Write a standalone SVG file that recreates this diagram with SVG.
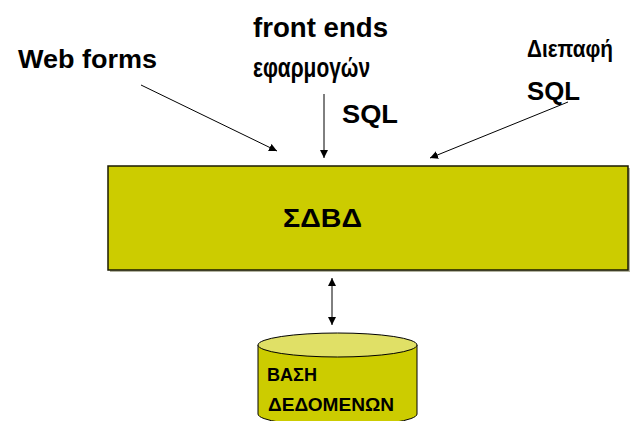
<svg xmlns="http://www.w3.org/2000/svg" width="633" height="421" viewBox="0 0 633 421">
  <defs>
    <marker id="arrow" viewBox="0 0 10 10" refX="10" refY="5" markerWidth="8" markerHeight="8" markerUnits="userSpaceOnUse" orient="auto-start-reverse">
      <path d="M0,0 L10,5 L0,10 z" fill="#000"/>
    </marker>
    <style>
      text { font-family: "Liberation Sans", "DejaVu Sans", sans-serif; font-weight: bold; fill: #000; }
      .lbl { font-size: 25px; }
      .big { font-size: 28px; }
      .mid { font-size: 23px; }
      .db { font-size: 18px; }
      .conn { stroke: #000; stroke-width: 1; fill: none; }
    </style>
  </defs>
  <rect width="633" height="421" fill="#fff"/>

  <!-- labels of the three clients -->
  <g id="web-forms">
    <text class="lbl" x="18" y="68" textLength="139" lengthAdjust="spacingAndGlyphs">Web forms</text>
  </g>
  <g id="front-ends">
    <text class="big" x="253" y="37" textLength="135" lengthAdjust="spacingAndGlyphs">front ends</text>
    <text class="big" x="253" y="77" textLength="117" lengthAdjust="spacingAndGlyphs">εφαρμογών</text>
    <text class="lbl" x="342" y="123" textLength="56" lengthAdjust="spacingAndGlyphs">SQL</text>
  </g>
  <g id="sql-interface">
    <text class="mid" x="527" y="57" textLength="86" lengthAdjust="spacingAndGlyphs">Διεπαφή</text>
    <text class="lbl" x="527" y="100" textLength="53" lengthAdjust="spacingAndGlyphs">SQL</text>
  </g>

  <!-- DBMS block -->
  <g id="dbms">
    <rect x="110" y="168" width="520" height="104" fill="#808060" opacity="0.6"/>
    <rect x="108" y="166" width="520" height="104" fill="#cccc00" stroke="#1a1a00" stroke-width="1.5"/>
    <text class="lbl" x="283" y="227" textLength="79" lengthAdjust="spacingAndGlyphs">ΣΔΒΔ</text>
  </g>

  <!-- database cylinder -->
  <g id="database">
    <path d="M258,345 L258,414 A79.5,12 0 0 0 417,414 L417,345" fill="#cccc00" stroke="#000" stroke-width="1"/>
    <ellipse cx="337.5" cy="345" rx="79.5" ry="12" fill="#e0e066" stroke="#000" stroke-width="1"/>
    <text class="db" x="267" y="381" textLength="50" lengthAdjust="spacingAndGlyphs">ΒΑΣΗ</text>
    <text class="db" x="268" y="411" textLength="126" lengthAdjust="spacingAndGlyphs">ΔΕΔΟΜΕΝΩΝ</text>
  </g>

  <!-- connectors -->
  <g id="connectors">
    <line class="conn" x1="141" y1="85" x2="277" y2="151" marker-end="url(#arrow)"/>
    <line class="conn" x1="324" y1="94" x2="324" y2="158" marker-end="url(#arrow)"/>
    <line class="conn" x1="568" y1="102" x2="430" y2="158" marker-end="url(#arrow)"/>
    <line class="conn" x1="332" y1="278" x2="332" y2="325" marker-start="url(#arrow)" marker-end="url(#arrow)"/>
  </g>
</svg>
